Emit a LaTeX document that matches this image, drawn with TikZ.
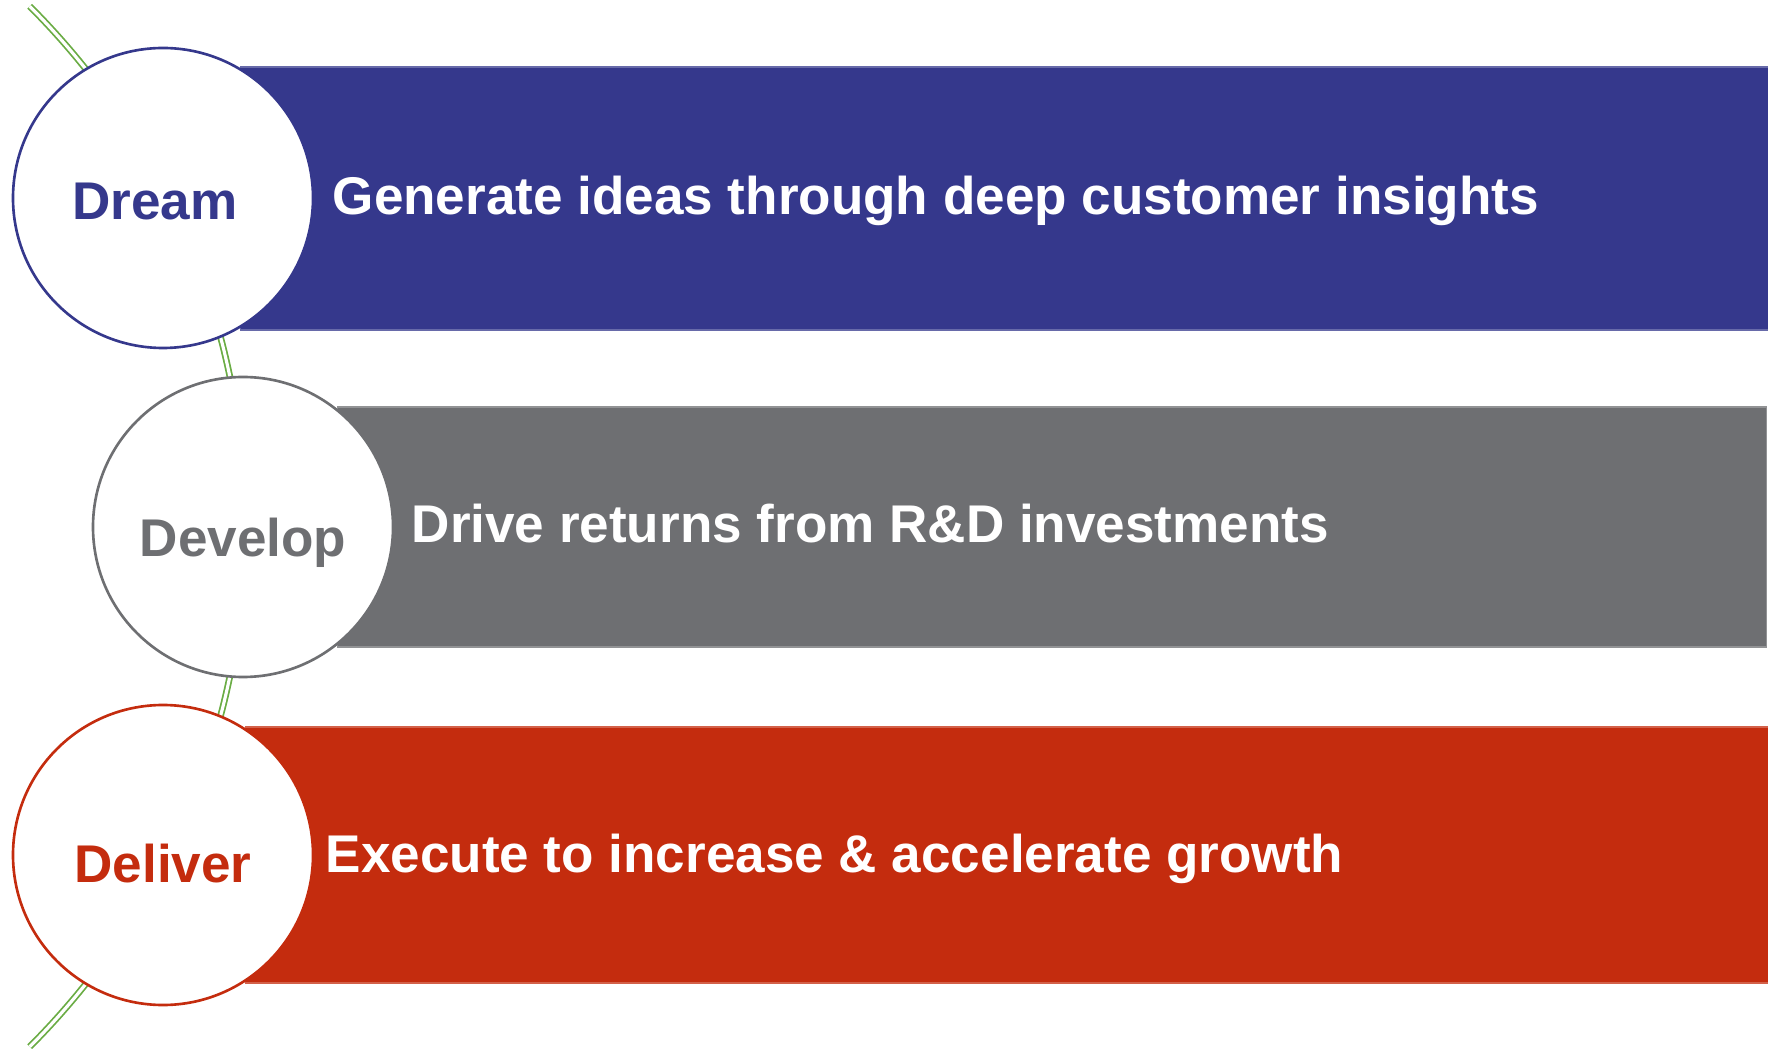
\documentclass[tikz,border=0pt]{standalone}
\usepackage{fontspec}
\setmainfont{Liberation Sans}
\usepackage{tikz}
\usetikzlibrary{positioning}
\definecolor{dreamblue}{RGB}{53,56,140}
\definecolor{devgray}{RGB}{110,111,114}
\definecolor{delivred}{RGB}{196,44,14}
\definecolor{arcgreen}{RGB}{106,172,68}

\begin{document}
\begin{tikzpicture}[
  font=\fontsize{15.1}{18}\selectfont\bfseries,
  bar/.style={rectangle, fill=#1, draw=#1!75!white, line width=0.3pt, anchor=west,
    inner sep=0pt},
  phase/.style={circle, draw=#1, line width=0.75pt, fill=white, text=#1,
    minimum size=3cm, inner sep=0pt, text depth=0pt},
  bartext/.style={text=white, anchor=base west, inner sep=0pt},
]
\useasboundingbox (0,0) rectangle (17.68,-10.49);
% green guide arc behind the circles
\coordinate (hub) at (-4.905,-5.265);
\draw[arcgreen, line width=0.5pt, double=white, double distance=0.9pt]
  ([shift={(45:7.357)}]hub) arc[start angle=45, end angle=-45, radius=7.357];

\node[bar=dreamblue, minimum width=15.28cm, minimum height=2.63cm] (dreambar) at (2.40,-1.985) {};
\node[bar=devgray, minimum width=14.29cm, minimum height=2.40cm] (devbar) at (3.37,-5.27) {};
\node[bar=delivred, minimum width=15.23cm, minimum height=2.56cm] (delivbar) at (2.45,-8.55) {};

\node[phase=dreamblue, text height=0.44cm] (dream) at (1.63,-1.98) {Dream\hspace*{0.16cm}};
\node[phase=devgray, text height=0.60cm] (develop) at (2.43,-5.27) {Develop};
\node[phase=delivred, text height=0.54cm] (deliver) at (1.63,-8.55) {Deliver};

\node[bartext] (dreamtxt) at (3.32,-2.15) {Generate ideas through deep customer insights};
\node[bartext] (devtxt) at (4.11,-5.43) {Drive returns from R\&D investments};
\node[bartext] (delivtxt) at (3.25,-8.72) {Execute to increase \& accelerate growth};
\end{tikzpicture}
\end{document}
